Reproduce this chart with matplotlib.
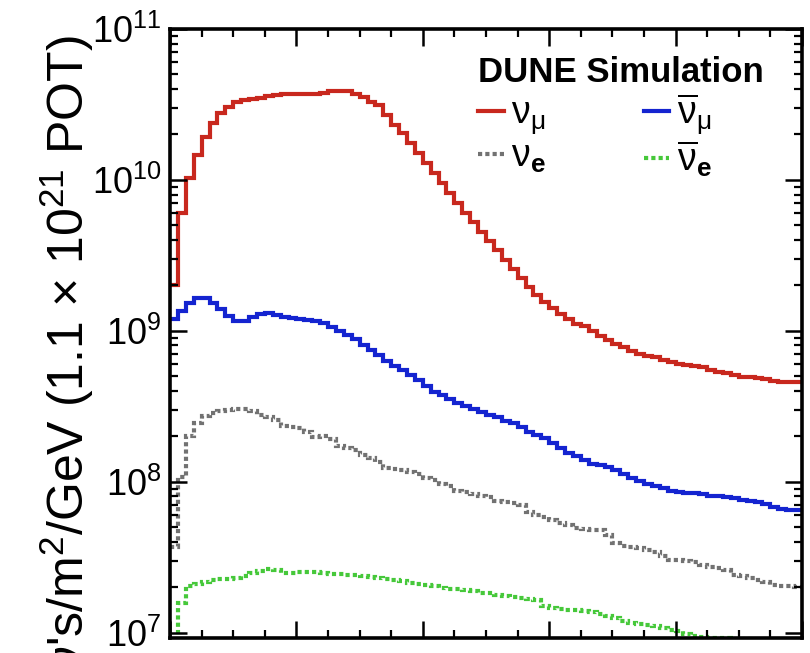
import numpy as np
import matplotlib
matplotlib.use("Agg")
import matplotlib.pyplot as plt
from matplotlib.ticker import LogLocator, MultipleLocator, NullFormatter, LogFormatterSciNotation

plt.rcParams['font.family'] = ['Liberation Sans', 'DejaVu Sans']
plt.rcParams['mathtext.fontset'] = 'custom'
plt.rcParams['mathtext.rm'] = 'Liberation Sans'
plt.rcParams['mathtext.it'] = 'Liberation Sans:italic'
plt.rcParams['mathtext.bf'] = 'Liberation Sans:bold'
plt.rcParams['mathtext.sf'] = 'Liberation Sans'

# ---- binning (GeV) ----
E_MIN, E_MAX, N_BINS = 0.0, 10.0, 80
edges = np.linspace(E_MIN, E_MAX, N_BINS + 1)

# ---- flux, log10(nu's / m^2 / GeV per 1.1e21 POT) ----
numu_log10 = [
    9.305, 9.781, 10.013, 10.166, 10.283, 10.380, 10.442, 10.485, 10.515, 10.530,
    10.538, 10.545, 10.556, 10.563, 10.570, 10.570, 10.568, 10.568, 10.570, 10.578,
    10.587, 10.591, 10.587, 10.570, 10.548, 10.519, 10.495, 10.430, 10.364, 10.309,
    10.243, 10.177, 10.111, 10.044, 9.978, 9.912, 9.846, 9.784, 9.724, 9.658,
    9.598, 9.536, 9.470, 9.409, 9.349, 9.293, 9.238, 9.194, 9.150, 9.110,
    9.077, 9.046, 9.030, 9.000, 8.967, 8.940, 8.914, 8.894, 8.868, 8.848,
    8.834, 8.825, 8.808, 8.791, 8.779, 8.775, 8.768, 8.758, 8.738, 8.728,
    8.722, 8.709, 8.695, 8.691, 8.687, 8.680, 8.671, 8.664, 8.660, 8.659,
]
numubar_log10 = [
    9.077, 9.134, 9.187, 9.217, 9.217, 9.187, 9.144, 9.099, 9.068, 9.064,
    9.091, 9.113, 9.117, 9.104, 9.091, 9.084, 9.077, 9.073, 9.064, 9.051,
    9.028, 9.002, 8.974, 8.945, 8.907, 8.874, 8.841, 8.803, 8.768, 8.742,
    8.709, 8.675, 8.636, 8.598, 8.576, 8.550, 8.523, 8.500, 8.480, 8.464,
    8.444, 8.428, 8.406, 8.389, 8.362, 8.333, 8.311, 8.289, 8.256, 8.223,
    8.194, 8.172, 8.146, 8.119, 8.113, 8.101, 8.079, 8.053, 8.024, 8.002,
    7.987, 7.974, 7.958, 7.942, 7.934, 7.929, 7.925, 7.916, 7.909, 7.903,
    7.899, 7.892, 7.881, 7.872, 7.866, 7.854, 7.836, 7.821, 7.815, 7.810,
]
nue_log10 = [
    7.570, 8.033, 8.305, 8.391, 8.437, 8.457, 8.470, 8.477, 8.481, 8.481,
    8.466, 8.444, 8.432, 8.411, 8.371, 8.366, 8.356, 8.333, 8.300, 8.305,
    8.283, 8.234, 8.223, 8.212, 8.179, 8.157, 8.134, 8.091, 8.084, 8.075,
    8.068, 8.053, 8.024, 8.013, 7.987, 7.969, 7.942, 7.934, 7.921, 7.907,
    7.900, 7.876, 7.863, 7.859, 7.848, 7.803, 7.781, 7.770, 7.744, 7.726,
    7.715, 7.693, 7.687, 7.682, 7.682, 7.649, 7.594, 7.576, 7.567, 7.561,
    7.550, 7.532, 7.505, 7.483, 7.479, 7.472, 7.466, 7.450, 7.435, 7.428,
    7.417, 7.384, 7.373, 7.362, 7.351, 7.333, 7.318, 7.311, 7.307, 7.303,
]
nuebar_log10 = [
    6.900, 7.199, 7.311, 7.325, 7.338, 7.346, 7.358, 7.358, 7.362, 7.373,
    7.395, 7.406, 7.422, 7.413, 7.395, 7.395, 7.399, 7.399, 7.399, 7.395,
    7.391, 7.391, 7.384, 7.384, 7.377, 7.369, 7.362, 7.358, 7.346, 7.340,
    7.329, 7.325, 7.318, 7.307, 7.296, 7.289, 7.289, 7.280, 7.274, 7.263,
    7.263, 7.252, 7.240, 7.236, 7.230, 7.223, 7.219, 7.174, 7.164, 7.157,
    7.152, 7.148, 7.141, 7.135, 7.126, 7.113, 7.097, 7.075, 7.064, 7.060,
    7.053, 7.046, 7.031, 7.020, 7.009, 6.993, 6.980, 6.972, 6.968, 6.966,
    6.962, 6.960, 6.958, 6.956, 6.955, 6.953, 6.952, 6.950, 6.948, 6.946,
]

labels = ["ν$_{\\mathrm{μ}}$", "ν$_{\\mathbf{e}}$",
          "$\\overline{\\mathrm{ν}}_{\\mathrm{μ}}$", "$\\overline{\\mathrm{ν}}_{\\mathbf{e}}$"]
colors = ["#c8281e", "#727272", "#1424d0", "#46c83a"]

fig = plt.figure(figsize=(8.10, 6.53), dpi=100)
ax = fig.add_axes([170 / 810, 1 - 638 / 653, 632 / 810, (638 - 29) / 653])

dot = (0, (1.0, 0.75))
h_numu = ax.stairs(10 ** np.array(numu_log10), edges, baseline=None,
                   color=colors[0], lw=3.0, label=labels[0])
h_nue = ax.stairs(10 ** np.array(nue_log10), edges, baseline=None,
                  color=colors[1], lw=3.0, linestyle=dot, label=labels[1])
h_numubar = ax.stairs(10 ** np.array(numubar_log10), edges, baseline=None,
                      color=colors[2], lw=3.0, label=labels[2])
h_nuebar = ax.stairs(10 ** np.array(nuebar_log10), edges, baseline=None,
                     color=colors[3], lw=3.0, linestyle=dot, label=labels[3])

ax.set_yscale('log')
ax.set_xlim(E_MIN, E_MAX)
ax.set_ylim(10 ** 6.965, 1e11)

ax.xaxis.set_major_locator(MultipleLocator(2))
ax.xaxis.set_minor_locator(MultipleLocator(0.5))
ax.yaxis.set_major_locator(LogLocator(base=10, numticks=20))
ax.yaxis.set_minor_locator(LogLocator(base=10, subs=np.arange(2, 10), numticks=100))
ax.yaxis.set_major_formatter(LogFormatterSciNotation())
ax.yaxis.set_minor_formatter(NullFormatter())

ax.tick_params(which='both', direction='in', top=True, right=True,
               labelbottom=False, labelsize=26)
ax.tick_params(which='major', length=12, width=1.8, pad=6)
ax.tick_params(which='minor', length=6, width=1.6)
for s in ax.spines.values():
    s.set_linewidth(2.6)

ax.set_ylabel("ν's/m$^{2}$/GeV (1.1 × 10$^{21}$ POT)", fontsize=36, loc='top',
              va='baseline')
ax.yaxis.set_label_coords((84 - 170) / 632, 1 - 6 / 609)

leg = ax.legend([h_numu, h_nue, h_numubar, h_nuebar], labels, ncol=2,
                loc='upper left', bbox_to_anchor=(0.488, 0.955), frameon=False,
                fontsize=27, title='DUNE Simulation',
                title_fontproperties={'weight': 'bold', 'size': 25},
                alignment='left', handlelength=0.68, handletextpad=0.2,
                columnspacing=2.6, labelspacing=0.05, borderpad=0,
                borderaxespad=0)

fig.savefig("out.png", dpi=100)
